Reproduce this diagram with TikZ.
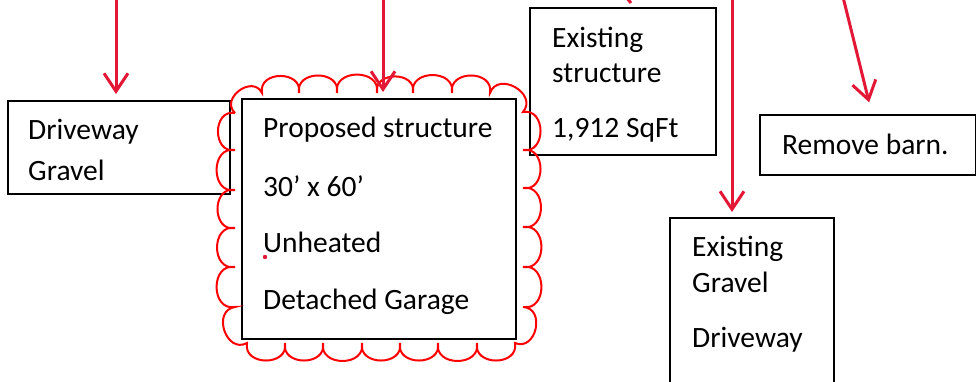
\documentclass[tikz,border=0pt]{standalone}
\usepackage{fontspec}
\setmainfont{Carlito}
\usetikzlibrary{arrows.meta}
\definecolor{arrowred}{RGB}{227,24,55}
\definecolor{cloudred}{RGB}{255,0,0}
\begin{document}
\begin{tikzpicture}[x=1pt,y=1pt,
  box/.style={draw=black, line width=2pt, inner sep=0pt, anchor=north west},
  lbl/.style={anchor=base west, inner sep=0pt, font=\fontsize{29.5}{34}\selectfont},
  pointer/.style={draw=arrowred, line width=3pt,
    -{Straight Barb[length=18pt, width=24pt, line width=3pt]}},
  scallop/.style={draw=cloudred, line width=2pt},
  bump/.style={bend left=100, looseness=1.6}]
\useasboundingbox (0,0) rectangle (976,-381);

% boxes
\node[box, minimum width=222pt, minimum height=93pt]  (drv)  at (7,-100)  {};
\node[box, minimum width=274pt, minimum height=240pt] (prop) at (241,-98) {};
\node[box, minimum width=186pt, minimum height=147pt] (exs)  at (529,-7)  {};
\node[box, minimum width=216pt, minimum height=60pt]  (rb)   at (759,-114) {};
\node[box, minimum width=164pt, minimum height=175pt] (exg)  at (669,-217) {};

% labels
\node[lbl] (drv1) at (28,-139) {Driveway};
\node[lbl] (drv2) at (28,-180) {Gravel};

\node[lbl] (prop1) at (263,-137) {Proposed structure};
\node[lbl] (prop2) at (263,-196) {30’ x 60’};
\node[lbl] (prop3) at (263,-252) {Unheated};
\node[lbl] (prop4) at (263,-309) {Detached Garage};

\node[lbl] (exs1) at (552,-47)  {Existing};
\node[lbl] (exs2) at (552,-82)  {structure};
\node[lbl] (exs3) at (552,-137) {1,912 SqFt};

\node[lbl] (rb1) at (782,-154) {Remove barn.};

\node[lbl] (exg1) at (692,-256) {Existing};
\node[lbl] (exg2) at (692,-292) {Gravel};
\node[lbl] (exg3) at (692,-347) {Driveway};

% revision cloud round the proposed structure
\draw[scallop] (235,-113)
  to[bump] (262,-93) to[bump] (299,-93) to[bump] (337,-93) to[bump] (377,-93)
  to[bump] (413,-93) to[bump] (452,-93) to[bump] (490,-93) to[bump] (523,-112)
  to[bump] (523,-150) to[bump] (523,-188) to[bump] (523,-227) to[bump] (523,-267)
  to[bump] (523,-307) to[bump] (515,-343)
  to[bump] (477,-343) to[bump] (438,-343) to[bump] (400,-343) to[bump] (362,-343)
  to[bump] (323,-343) to[bump] (285,-343) to[bump] (247,-343)
  to[bump] (235,-307) to[bump] (235,-267) to[bump] (235,-228) to[bump] (235,-190)
  to[bump] (235,-150) to[bump] (235,-113);
\fill[arrowred] (265,-257) circle (2.2);

% pointers
\coordinate (a1) at (116,3);
\coordinate (a2) at (383,3);
\coordinate (a3s) at (626,3);
\coordinate (a3e) at (631,-3);
\coordinate (a4) at (732,3);
\coordinate (a5) at (843,3);
\draw[pointer, shorten >=6pt] (a1) -- (a1 |- drv.north);
\draw[pointer, shorten >=6pt] (a2) -- (a2 |- prop.north);
\draw[arrowred, line width=3pt] (a3s) -- (a3e);
\draw[pointer, shorten >=5pt] (a4) -- (a4 |- exg.north);
\draw[pointer, shorten >=12pt] (a5) -- ([xshift=4pt]rb.north);
\end{tikzpicture}
\end{document}
